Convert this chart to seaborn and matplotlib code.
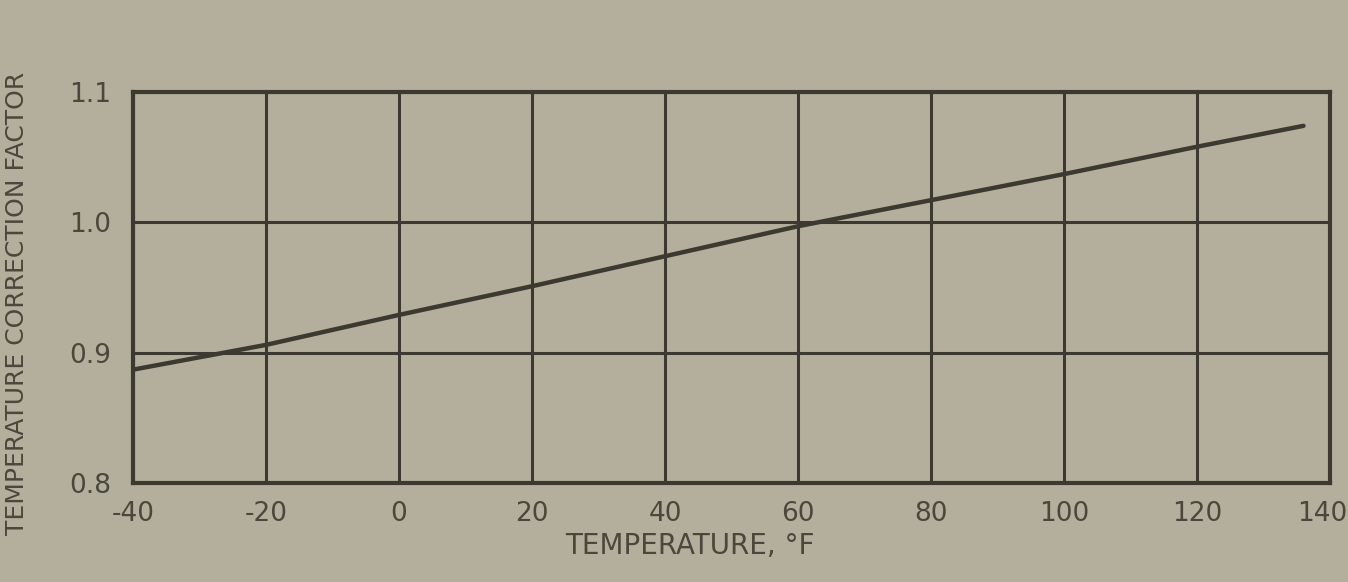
import matplotlib
matplotlib.use("Agg")
import matplotlib.pyplot as plt
import matplotlib.transforms as mtransforms
import seaborn as sns
import pandas as pd

# Temperature correction curve
temperature_f = [-40, -20, 0, 20, 40, 60, 80, 100, 120, 136]
correction_factor = [0.887, 0.906, 0.929, 0.951, 0.974, 0.997, 1.017, 1.037, 1.058, 1.074]

x_ticks = [-40, -20, 0, 20, 40, 60, 80, 100, 120, 140]
x_tick_labels = ["-40", "-20", "0", "20", "40", "60", "80", "100", "120", "140"]
y_ticks = [0.8, 0.9, 1.0, 1.1]
y_tick_labels = ["0.8", "0.9", "1.0", "1.1"]

paper = "#b4af9d"
ink = "#3b3930"
label_ink = "#4a473d"

sns.set_theme(style="white")
plt.rcParams["font.family"] = ["DejaVu Sans"]

fig = plt.figure(figsize=(13.48, 5.82), dpi=100, facecolor=paper)
ax = fig.add_axes([0.0987, 0.170, 0.888, 0.672])
ax.set_facecolor(paper)

df = pd.DataFrame({"temp": temperature_f, "factor": correction_factor})
sns.lineplot(data=df, x="temp", y="factor", ax=ax, color=ink, linewidth=3.2)

ax.set_xlim(-40, 140)
ax.set_ylim(0.8, 1.1)
ax.set_xticks(x_ticks)
ax.set_xticklabels(x_tick_labels)
ax.set_yticks(y_ticks)
ax.set_yticklabels(y_tick_labels)

ax.grid(True, color=ink, linewidth=2.2)
ax.set_axisbelow(True)
for s in ax.spines.values():
    s.set_visible(True)
    s.set_color(ink)
    s.set_linewidth(3)

ax.tick_params(axis="both", length=0, colors=label_ink, labelsize=19)
ax.tick_params(axis="x", pad=13)
ax.tick_params(axis="y", pad=16)

ax.set_xlabel("TEMPERATURE, °F", fontsize=20, color=label_ink)
ax.xaxis.set_label_coords(0.465, -0.125)
ax.set_ylabel("TEMPERATURE CORRECTION FACTOR", fontsize=18, color=label_ink)
ax.yaxis.set_label_coords(-0.087, 0.46)

# pull the last x label in so it stays inside the figure
last = ax.get_xticklabels()[-1]
shift = mtransforms.ScaledTranslation(-8 / 100, 0, fig.dpi_scale_trans)
last.set_transform(last.get_transform() + shift)

fig.savefig("out.png", dpi=100, facecolor=paper)
